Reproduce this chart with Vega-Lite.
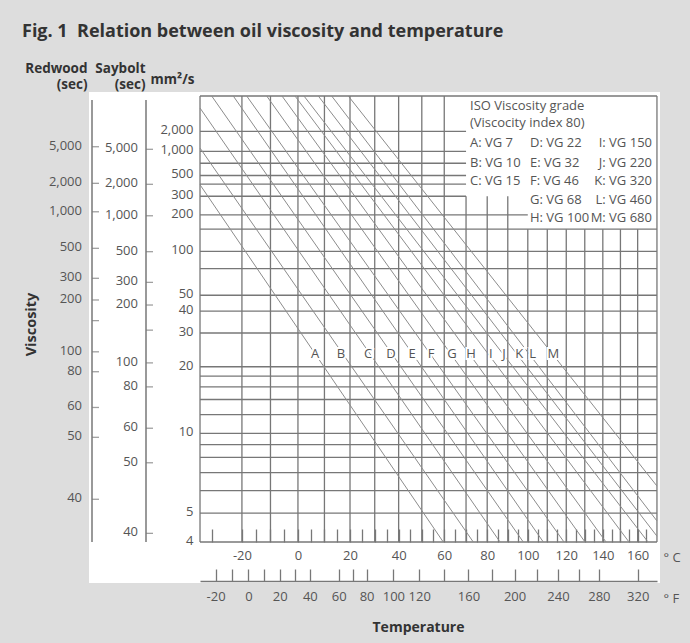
{
  "$schema": "https://vega.github.io/schema/vega-lite/v6.json",
  "width": 571,
  "height": 491,
  "autosize": {"type": "none"},
  "padding": {"left": 89, "top": 92, "right": 30, "bottom": 60},
  "background": "#dddddd",
  "title": {
    "text": "Fig. 1\u00a0\u00a0Relation between oil viscosity and temperature",
    "anchor": "start", "frame": "group", "dx": -67, "offset": 20,
    "font": "Open Sans", "fontSize": 18, "fontWeight": "bold", "color": "#333333"
  },
  "config": {
    "view": {"fill": "white", "stroke": null},
    "axis": {"labelFont": "Open Sans", "labelFontSize": 13, "labelColor": "#555555", "titleFont": "Open Sans", "titleColor": "#333333", "titleFontWeight": "bold", "titleFontSize": 14, "grid": false, "labelFlush": false, "labelOverlap": false},
    "text": {"font": "Open Sans", "fontSize": 13, "color": "#555555"}
  },
  "resolve": {"scale": {"x": "independent", "y": "independent"}},
  "layer": [
    {
      "encoding": {
        "x": {"field": "kelvin", "type": "quantitative",
              "scale": {"type": "log", "domain": [205.7, 446.49], "nice": false},
              "axis": {"orient": "bottom", "offset": -41,
                       "values": [243.15, 253.15, 258.15, 263.15, 268.15, 273.15, 278.15, 283.15, 288.15, 293.15, 298.15, 303.15, 308.15, 313.15, 318.15, 323.15, 328.15, 333.15, 338.15, 343.15, 348.15, 353.15, 358.15, 363.15, 368.15, 373.15, 378.15, 383.15, 388.15, 393.15, 398.15, 403.15, 408.15, 413.15, 418.15, 423.15, 428.15, 433.15, 438.15],
                       "labelExpr": "round(datum.value - 273.15) % 20 == 0 ? '' + round(datum.value - 273.15) : ''",
                       "tickSize": -13, "tickColor": "#777777", "tickWidth": 1.3, "domain": false, "labelPadding": 20.5,
                       "title": ["° C", "° F"], "titleX": 574, "titleY": 19, "titleAlign": "left", "titleBaseline": "alphabetic",
                       "titleLineHeight": 41.6, "titleFontWeight": "normal", "titleFontSize": 13, "titleColor": "#555555"}},
        "y": {"field": "nu", "type": "quantitative",
              "scale": {"type": "pow", "exponent": -0.26, "domain": [2.9752, 13028], "nice": false, "zero": false},
              "axis": {"orient": "left", "offset": -111, "values": [4, 5, 10, 20, 30, 40, 50, 100, 200, 300, 500, 1000, 2000],
                       "format": ",.0f", "ticks": false, "domain": false, "labelPadding": 7, "labelOffset": -1.5,
                       "title": "mm²/s", "titleAngle": 0, "titleAlign": "left", "titleBaseline": "alphabetic", "titleX": -50, "titleY": -9, "titleFontSize": 13.5}}
      },
      "layer": [
        {
          "data": {"values": [
            {"nu": 10252, "kelvin": 239.15, "kelvin_to": 444.65},
            {"nu": 2000, "kelvin": 239.15, "kelvin_to": 343.15},
            {"nu": 1000, "kelvin": 239.15, "kelvin_to": 343.15},
            {"nu": 700, "kelvin": 239.15, "kelvin_to": 343.15},
            {"nu": 500, "kelvin": 239.15, "kelvin_to": 343.15},
            {"nu": 400, "kelvin": 239.15, "kelvin_to": 343.15},
            {"nu": 300, "kelvin": 239.15, "kelvin_to": 343.15},
            {"nu": 200, "kelvin": 239.15, "kelvin_to": 373.15},
            {"nu": 150, "kelvin": 239.15, "kelvin_to": 444.65},
            {"nu": 100, "kelvin": 239.15, "kelvin_to": 444.65},
            {"nu": 75, "kelvin": 239.15, "kelvin_to": 444.65},
            {"nu": 50, "kelvin": 239.15, "kelvin_to": 444.65},
            {"nu": 40, "kelvin": 239.15, "kelvin_to": 444.65},
            {"nu": 30, "kelvin": 239.15, "kelvin_to": 444.65},
            {"nu": 20, "kelvin": 239.15, "kelvin_to": 444.65},
            {"nu": 18, "kelvin": 239.15, "kelvin_to": 444.65},
            {"nu": 16, "kelvin": 239.15, "kelvin_to": 444.65},
            {"nu": 14, "kelvin": 239.15, "kelvin_to": 444.65},
            {"nu": 12, "kelvin": 239.15, "kelvin_to": 444.65},
            {"nu": 10, "kelvin": 239.15, "kelvin_to": 444.65},
            {"nu": 9, "kelvin": 239.15, "kelvin_to": 444.65},
            {"nu": 8, "kelvin": 239.15, "kelvin_to": 444.65},
            {"nu": 7, "kelvin": 239.15, "kelvin_to": 444.65},
            {"nu": 6, "kelvin": 239.15, "kelvin_to": 444.65},
            {"nu": 5, "kelvin": 239.15, "kelvin_to": 444.65},
            {"nu": 4, "kelvin": 239.15, "kelvin_to": 444.65}
          ]},
          "mark": {"type": "rule", "color": "#777777", "strokeWidth": 1.3},
          "encoding": {"x2": {"field": "kelvin_to"}}
        },
        {
          "data": {"values": [
            {"kelvin": 239.15, "nu": 4, "nu_to": 10252},
            {"kelvin": 253.15, "nu": 4, "nu_to": 10252},
            {"kelvin": 263.15, "nu": 4, "nu_to": 10252},
            {"kelvin": 273.15, "nu": 4, "nu_to": 10252},
            {"kelvin": 283.15, "nu": 4, "nu_to": 10252},
            {"kelvin": 293.15, "nu": 4, "nu_to": 10252},
            {"kelvin": 303.15, "nu": 4, "nu_to": 10252},
            {"kelvin": 313.15, "nu": 4, "nu_to": 10252},
            {"kelvin": 323.15, "nu": 4, "nu_to": 10252},
            {"kelvin": 333.15, "nu": 4, "nu_to": 10252},
            {"kelvin": 343.15, "nu": 4, "nu_to": 300},
            {"kelvin": 353.15, "nu": 4, "nu_to": 300},
            {"kelvin": 363.15, "nu": 4, "nu_to": 300},
            {"kelvin": 373.15, "nu": 4, "nu_to": 150},
            {"kelvin": 383.15, "nu": 4, "nu_to": 150},
            {"kelvin": 393.15, "nu": 4, "nu_to": 150},
            {"kelvin": 403.15, "nu": 4, "nu_to": 150},
            {"kelvin": 413.15, "nu": 4, "nu_to": 150},
            {"kelvin": 423.15, "nu": 4, "nu_to": 150},
            {"kelvin": 433.15, "nu": 4, "nu_to": 150},
            {"kelvin": 444.65, "nu": 4, "nu_to": 10252}
          ]},
          "mark": {"type": "rule", "color": "#777777", "strokeWidth": 1.3},
          "encoding": {"y2": {"field": "nu_to"}}
        },
        {
          "data": {"values": [
            {"grade": "A", "kelvin": 239.15, "nu": 395}, {"grade": "A", "kelvin": 332.70, "nu": 4},
            {"grade": "B", "kelvin": 239.15, "nu": 1114}, {"grade": "B", "kelvin": 346.53, "nu": 4},
            {"grade": "C", "kelvin": 239.15, "nu": 5425}, {"grade": "C", "kelvin": 359.35, "nu": 4},
            {"grade": "D", "kelvin": 242.98, "nu": 10252}, {"grade": "D", "kelvin": 370.87, "nu": 4},
            {"grade": "E", "kelvin": 250.20, "nu": 10252}, {"grade": "E", "kelvin": 381.09, "nu": 4},
            {"grade": "F", "kelvin": 254.80, "nu": 10252}, {"grade": "F", "kelvin": 391.94, "nu": 4},
            {"grade": "G", "kelvin": 261.81, "nu": 10252}, {"grade": "G", "kelvin": 403.28, "nu": 4},
            {"grade": "H", "kelvin": 267.30, "nu": 10252}, {"grade": "H", "kelvin": 414.95, "nu": 4},
            {"grade": "I", "kelvin": 272.06, "nu": 10252}, {"grade": "I", "kelvin": 428.10, "nu": 4},
            {"grade": "J", "kelvin": 275.40, "nu": 10252}, {"grade": "J", "kelvin": 439.29, "nu": 4},
            {"grade": "K", "kelvin": 280.80, "nu": 10252}, {"grade": "K", "kelvin": 444.65, "nu": 4.18},
            {"grade": "L", "kelvin": 285.95, "nu": 10252}, {"grade": "L", "kelvin": 444.65, "nu": 4.70},
            {"grade": "M", "kelvin": 292.47, "nu": 10252}, {"grade": "M", "kelvin": 444.65, "nu": 6.24}
          ]},
          "mark": {"type": "line", "color": "#8c8c8c", "strokeWidth": 1},
          "encoding": {"detail": {"field": "grade", "type": "nominal"}}
        },
        {
          "data": {"values": [
            {"grade": "A", "kelvin": 279.55, "nu": 23.2},
            {"grade": "B", "kelvin": 289.59, "nu": 23.2},
            {"grade": "C", "kelvin": 300.39, "nu": 23.2},
            {"grade": "D", "kelvin": 309.92, "nu": 23.2},
            {"grade": "E", "kelvin": 318.88, "nu": 23.2},
            {"grade": "F", "kelvin": 327.21, "nu": 23.2},
            {"grade": "G", "kelvin": 336.67, "nu": 23.2},
            {"grade": "H", "kelvin": 345.46, "nu": 23.2},
            {"grade": "I", "kelvin": 354.83, "nu": 23.2},
            {"grade": "J", "kelvin": 361.29, "nu": 23.2},
            {"grade": "K", "kelvin": 368.87, "nu": 23.2},
            {"grade": "L", "kelvin": 375.64, "nu": 23.2},
            {"grade": "M", "kelvin": 386.29, "nu": 23.2}
          ]},
          "mark": {"type": "text", "align": "center", "baseline": "middle", "fontSize": 13, "stroke": "white", "strokeWidth": 4, "fill": "white"},
          "encoding": {"text": {"field": "grade", "type": "nominal"}}
        },
        {
          "data": {"values": [
            {"grade": "A", "kelvin": 279.55, "nu": 23.2},
            {"grade": "B", "kelvin": 289.59, "nu": 23.2},
            {"grade": "C", "kelvin": 300.39, "nu": 23.2},
            {"grade": "D", "kelvin": 309.92, "nu": 23.2},
            {"grade": "E", "kelvin": 318.88, "nu": 23.2},
            {"grade": "F", "kelvin": 327.21, "nu": 23.2},
            {"grade": "G", "kelvin": 336.67, "nu": 23.2},
            {"grade": "H", "kelvin": 345.46, "nu": 23.2},
            {"grade": "I", "kelvin": 354.83, "nu": 23.2},
            {"grade": "J", "kelvin": 361.29, "nu": 23.2},
            {"grade": "K", "kelvin": 368.87, "nu": 23.2},
            {"grade": "L", "kelvin": 375.64, "nu": 23.2},
            {"grade": "M", "kelvin": 386.29, "nu": 23.2}
          ]},
          "mark": {"type": "text", "align": "center", "baseline": "middle", "fontSize": 13, "color": "#555555"},
          "encoding": {"text": {"field": "grade", "type": "nominal"}}
        },
        {
          "data": {"values": [
            {"text": "ISO Viscosity grade", "kelvin": 345.0, "nu": 5996},
            {"text": "(Viscocity index 80)", "kelvin": 345.0, "nu": 2739},
            {"text": "A: VG 7", "kelvin": 345.0, "nu": 1302},
            {"text": "B: VG 10", "kelvin": 345.0, "nu": 711},
            {"text": "C: VG 15", "kelvin": 345.0, "nu": 433.6},
            {"text": "D: VG 22", "kelvin": 374.26, "nu": 1302},
            {"text": "E: VG 32", "kelvin": 374.26, "nu": 711},
            {"text": "F: VG 46", "kelvin": 374.26, "nu": 433.6},
            {"text": "G: VG 68", "kelvin": 374.26, "nu": 275.2},
            {"text": "H: VG 100", "kelvin": 374.26, "nu": 186.1}
          ]},
          "mark": {"type": "text", "align": "left", "baseline": "middle", "fontSize": 13, "color": "#555555"},
          "encoding": {"text": {"field": "text", "type": "nominal"}}
        },
        {
          "data": {"values": [
            {"text": "I:  VG 150", "kelvin": 441.67, "nu": 1302},
            {"text": "J:  VG 220", "kelvin": 441.67, "nu": 711},
            {"text": "K:  VG 320", "kelvin": 441.67, "nu": 433.6},
            {"text": "L:  VG 460", "kelvin": 441.67, "nu": 275.2},
            {"text": "M: VG 680", "kelvin": 441.67, "nu": 186.1}
          ]},
          "mark": {"type": "text", "align": "right", "baseline": "middle", "fontSize": 13, "color": "#555555"},
          "encoding": {"text": {"field": "text", "type": "nominal"}}
        }
      ]
    },
    {
      "data": {"values": [
        {"fahrenheit": -20, "kelvin": 244.2611}, {"fahrenheit": -10, "kelvin": 249.8167},
        {"fahrenheit": 0, "kelvin": 255.3722}, {"fahrenheit": 10, "kelvin": 260.9278},
        {"fahrenheit": 20, "kelvin": 266.4833}, {"fahrenheit": 30, "kelvin": 272.0389},
        {"fahrenheit": 40, "kelvin": 277.5944}, {"fahrenheit": 60, "kelvin": 288.7056},
        {"fahrenheit": 70, "kelvin": 294.2611}, {"fahrenheit": 80, "kelvin": 299.8167},
        {"fahrenheit": 100, "kelvin": 310.9278}, {"fahrenheit": 120, "kelvin": 322.0389},
        {"fahrenheit": 140, "kelvin": 333.15}, {"fahrenheit": 160, "kelvin": 344.2611},
        {"fahrenheit": 180, "kelvin": 355.3722}, {"fahrenheit": 200, "kelvin": 366.4833},
        {"fahrenheit": 220, "kelvin": 377.5944}, {"fahrenheit": 240, "kelvin": 388.7056},
        {"fahrenheit": 260, "kelvin": 399.8167}, {"fahrenheit": 280, "kelvin": 410.9278},
        {"fahrenheit": 320, "kelvin": 433.15}
      ]},
      "mark": {"type": "point", "opacity": 0},
      "encoding": {
        "x": {"field": "kelvin", "type": "quantitative",
              "scale": {"type": "log", "domain": [239.15, 444.65], "range": [111, 568], "nice": false},
              "axis": {"orient": "bottom", "offset": -2,
                       "values": [244.2611, 249.8167, 255.3722, 260.9278, 266.4833, 272.0389, 277.5944, 288.7056, 294.2611, 299.8167, 310.9278, 322.0389, 333.15, 344.2611, 355.3722, 366.4833, 377.5944, 388.7056, 399.8167, 410.9278, 433.15],
                       "labelExpr": "indexof([-20, 0, 20, 40, 60, 80, 100, 120, 160, 200, 240, 280, 320], round((datum.value - 273.15) * 1.8 + 32)) >= 0 ? '' + round((datum.value - 273.15) * 1.8 + 32) : ''",
                       "tickSize": -12, "tickColor": "#777777", "tickWidth": 1.3, "domainColor": "#777777", "domainWidth": 1.3,
                       "labelPadding": 21.5,
                       "title": "Temperature", "titleX": 329, "titleY": 46, "titleAlign": "center", "titleBaseline": "middle", "titleFontSize": 14}},
        "y": {"datum": 1, "type": "quantitative", "scale": {"domain": [0, 2]},
              "axis": {"orient": "left", "domain": false, "ticks": false, "labels": false, "grid": false,
                       "title": "Viscosity", "titleAngle": 270, "titleAlign": "center", "titleBaseline": "middle",
                       "titleX": -58, "titleY": 232, "titleFontSize": 14.5}}
      }
    },
    {
      "data": {"values": [
        {"sec": 40, "label": "40", "nu": 4.27},
        {"sec": 50, "label": "50", "nu": 7.63},
        {"sec": 60, "label": "60", "nu": 10.5},
        {"sec": 80, "label": "80", "nu": 16.0},
        {"sec": 100, "label": "100", "nu": 20.9},
        {"sec": 150, "label": "", "nu": 31.1},
        {"sec": 200, "label": "200", "nu": 43.5},
        {"sec": 300, "label": "300", "nu": 60.5},
        {"sec": 500, "label": "500", "nu": 99.5},
        {"sec": 1000, "label": "1,000", "nu": 196},
        {"sec": 2000, "label": "2,000", "nu": 399},
        {"sec": 5000, "label": "5,000", "nu": 1069}
      ]},
      "encoding": {
        "x": {"datum": "Saybolt", "type": "nominal", "scale": {"type": "point", "range": [57, 57]}, "axis": null},
        "y": {"field": "nu", "type": "quantitative",
              "scale": {"type": "pow", "exponent": -0.26, "domain": [2.9752, 13028], "nice": false, "zero": false},
              "axis": {"orient": "left", "domain": false, "ticks": false, "labels": false, "grid": false,
                       "title": ["Saybolt", "(sec)"], "titleAngle": 0, "titleAlign": "right", "titleBaseline": "alphabetic",
                       "titleX": 56, "titleY": -20, "titleLineHeight": 16, "titleFontSize": 13.5}}
      },
      "layer": [
        {
          "data": {"values": [{"nu": 8194, "nu_bottom": 4}]},
          "mark": {"type": "rule", "color": "#777777", "strokeWidth": 1.5},
          "encoding": {"y2": {"field": "nu_bottom"}}
        },
        {"mark": {"type": "tick", "orient": "horizontal", "size": 7, "thickness": 1.3, "xOffset": 3.5, "color": "#777777"}},
        {"mark": {"type": "text", "align": "right", "baseline": "middle", "dx": -8, "dy": -1, "fontSize": 13, "color": "#555555"},
         "encoding": {"text": {"field": "label", "type": "nominal"}}}
      ]
    },
    {
      "data": {"values": [
        {"sec": 40, "label": "40", "nu": 5.59},
        {"sec": 50, "label": "50", "nu": 9.63},
        {"sec": 60, "label": "60", "nu": 12.9},
        {"sec": 80, "label": "80", "nu": 18.9},
        {"sec": 100, "label": "100", "nu": 23.8},
        {"sec": 150, "label": "", "nu": 35.2},
        {"sec": 200, "label": "200", "nu": 46.7},
        {"sec": 300, "label": "300", "nu": 64.4},
        {"sec": 500, "label": "500", "nu": 105.5},
        {"sec": 1000, "label": "1,000", "nu": 213},
        {"sec": 2000, "label": "2,000", "nu": 409},
        {"sec": 5000, "label": "5,000", "nu": 1162}
      ]},
      "encoding": {
        "x": {"datum": "Redwood", "type": "nominal", "scale": {"type": "point", "range": [3, 3]}, "axis": null},
        "y": {"field": "nu", "type": "quantitative",
              "scale": {"type": "pow", "exponent": -0.26, "domain": [2.9752, 13028], "nice": false, "zero": false},
              "axis": {"orient": "left", "domain": false, "ticks": false, "labels": false, "grid": false,
                       "title": ["Redwood", "(sec)"], "titleAngle": 0, "titleAlign": "right", "titleBaseline": "alphabetic",
                       "titleX": -2, "titleY": -20, "titleLineHeight": 16, "titleFontSize": 13.5}}
      },
      "layer": [
        {
          "data": {"values": [{"nu": 8194, "nu_bottom": 4}]},
          "mark": {"type": "rule", "color": "#777777", "strokeWidth": 1.5},
          "encoding": {"y2": {"field": "nu_bottom"}}
        },
        {"mark": {"type": "tick", "orient": "horizontal", "size": 7, "thickness": 1.3, "xOffset": 3.5, "color": "#777777"}},
        {"mark": {"type": "text", "align": "right", "baseline": "middle", "dx": -10, "dy": -1, "fontSize": 13, "color": "#555555"},
         "encoding": {"text": {"field": "label", "type": "nominal"}}}
      ]
    }
  ]
}
